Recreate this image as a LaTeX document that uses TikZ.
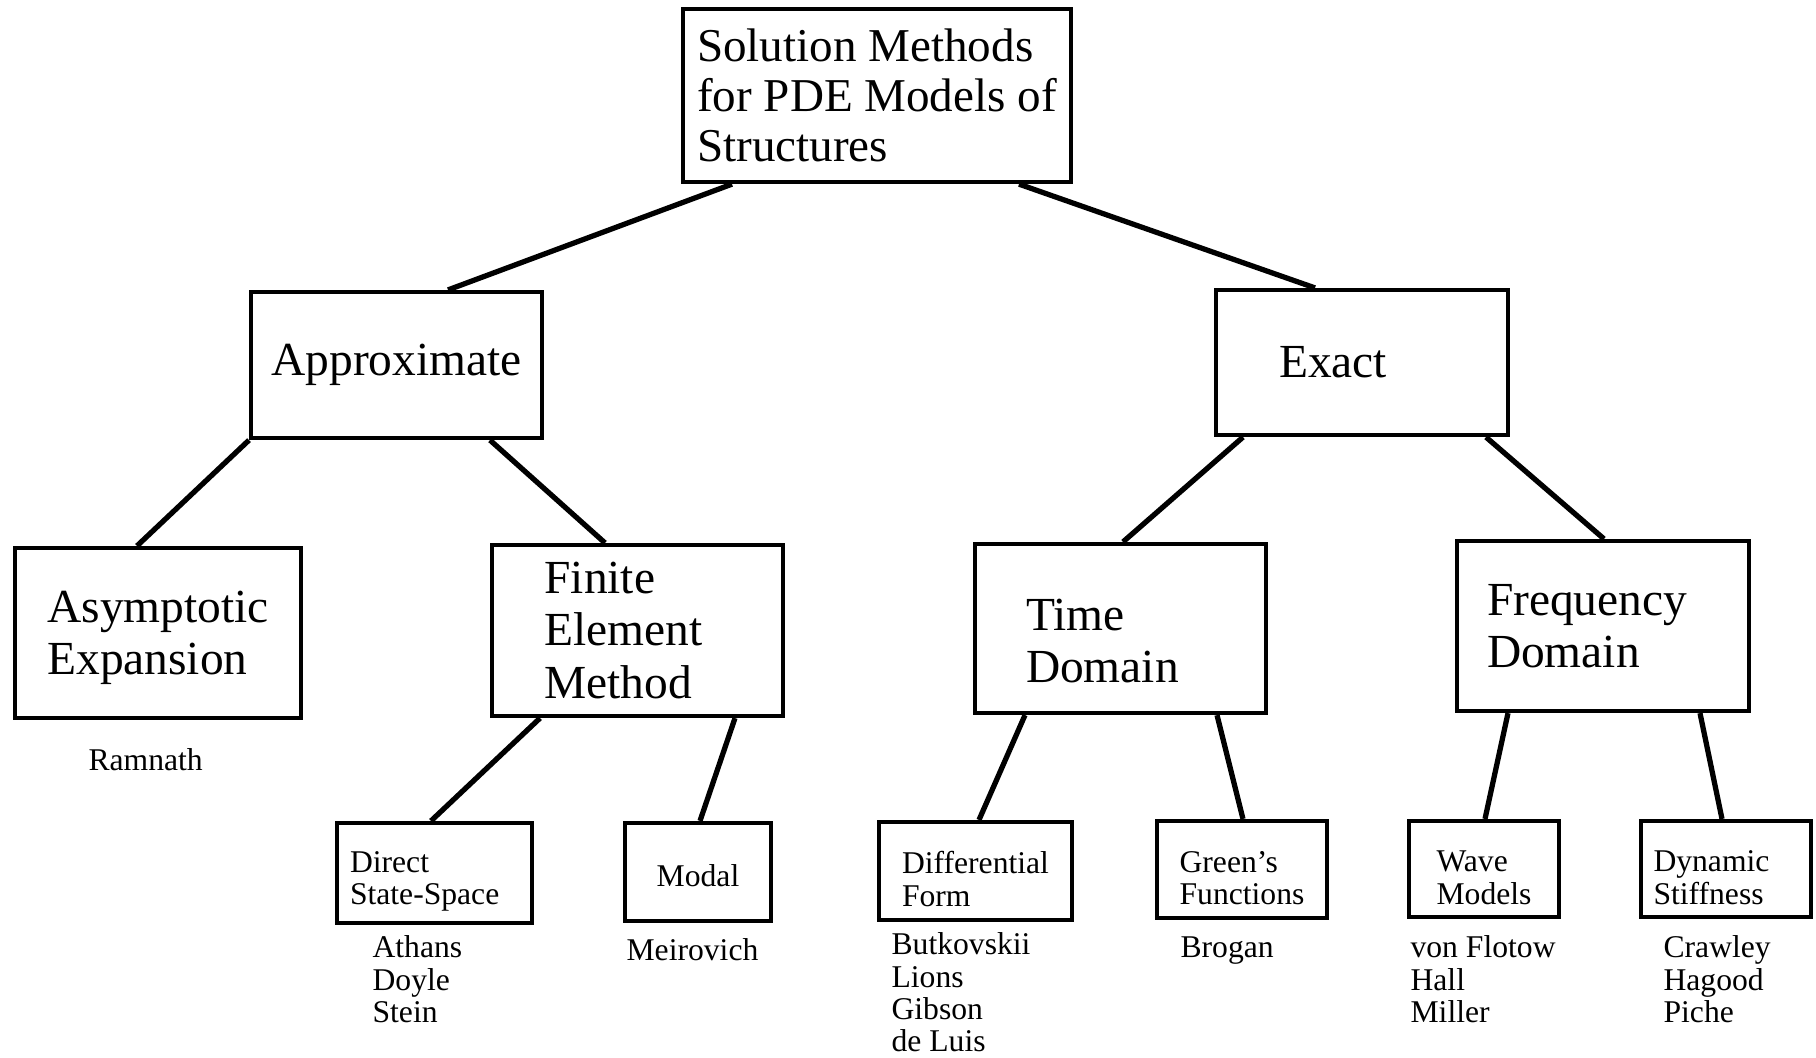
\documentclass[tikz,border=0pt]{standalone}
\usepackage{fontspec}
\setmainfont{Liberation Serif}
\usepackage{tikz}
\usetikzlibrary{positioning}

\tikzset{
  bigbox/.style={draw, line width=1.2pt, align=left, inner sep=0pt,
    font=\fontsize{13.5}{14.8}\selectfont},
  smallbox/.style={draw, line width=1.2pt, align=left, inner sep=0pt,
    text height=20pt, font=\fontsize{9}{9.2}\selectfont},
  refs/.style={align=left, inner sep=0pt, font=\fontsize{9}{9.2}\selectfont},
  link/.style={line width=1.5pt},
}

\begin{document}
\begin{tikzpicture}[x=0.1mm, y=-0.1mm]
            \useasboundingbox (0,0) rectangle (1816,1057);
            % top level
            \node[bigbox, font=\fontsize{13.4}{14.2}\selectfont, minimum width=38.8mm, minimum height=17.3mm] (root) at (877,95.5) {Solution Methods\\for PDE Models of\\Structures};
            \node[bigbox, minimum width=29.1mm, minimum height=14.6mm] (approx) at (396.5,365) {Approximate};
            \node[bigbox, text width=16.6mm, minimum width=29.2mm, minimum height=14.5mm] (exact) at (1362,362.5) {Exact};
            % second level
            \node[bigbox, text height=26.7pt, minimum width=28.6mm, minimum height=17mm] (asym) at (158,633) {Asymptotic\\Expansion};
            \node[bigbox, text width=18.6mm, minimum width=29.1mm, minimum height=17.1mm] (fem) at (637.5,630.5) {Finite\\Element\\Method};
            \node[bigbox, text height=16pt, text width=18.9mm, minimum width=29.1mm, minimum height=16.9mm] (time) at (1120.5,628.5) {Time\\Domain};
            \node[bigbox, text width=23.2mm, minimum width=29.2mm, minimum height=17mm] (freq) at (1603,626) {Frequency\\Domain};
            % third level
            \node[smallbox, text height=10.8pt, text width=16.9mm, minimum width=19.5mm, minimum height=10mm] (dss) at (434.5,873) {Direct\\State-Space};
            \node[smallbox, text height=8.2pt, minimum width=14.6mm, minimum height=9.8mm] (modal) at (698,872) {Modal};
            \node[smallbox, minimum width=19.3mm, minimum height=9.8mm] (diff) at (975.5,871) {Differential\\Form};
            \node[smallbox, minimum width=17mm, minimum height=9.7mm] (green) at (1242,869.5) {Green's\\Functions};
            \node[smallbox, minimum width=15mm, minimum height=9.6mm] (wave) at (1484,869) {Wave\\Models};
            \node[smallbox, text height=10.8pt, text width=14.5mm, minimum width=17mm, minimum height=9.6mm] (dyn) at (1726,869) {Dynamic\\Stiffness};
            % authors
            \node[refs, below right=2.8mm and 7.5mm of asym.south west] (asymrefs) {Ramnath};
            \node[refs, below right=1.0mm and 3.7mm of dss.south west] (dssrefs) {Athans\\Doyle\\Stein};
            \node[refs, below right=1.5mm and 0.3mm of modal.south west] (modalrefs) {Meirovich};
            \node[refs, below right=1.0mm and 1.4mm of diff.south west] (diffrefs) {Butkovskii\\Lions\\Gibson\\de Luis};
            \node[refs, below right=1.6mm and 2.5mm of green.south west] (greenrefs) {Brogan};
            \node[refs, below right=1.6mm and 0.3mm of wave.south west] (waverefs) {von Flotow\\Hall\\Miller};
            \node[refs, below right=1.6mm and 2.4mm of dyn.south west] (dynrefs) {Crawley\\Hagood\\Piche};
            % connectors
            \draw[link] (root.south -| 732,0) -- (approx.north -| 448,0);
            \draw[link] (root.south -| 1019,0) -- (exact.north -| 1315,0);
            \draw[link] (approx.south -| 249,0) -- (asym.north -| 137,0);
            \draw[link] (approx.south -| 490,0) -- (fem.north -| 605,0);
            \draw[link] (exact.south -| 1243,0) -- (time.north -| 1123,0);
            \draw[link] (exact.south -| 1486,0) -- (freq.north -| 1604,0);
            \draw[link] (fem.south -| 540,0) -- (dss.north -| 431,0);
            \draw[link] (fem.south -| 735,0) -- (modal.north -| 700,0);
            \draw[link] (time.south -| 1025,0) -- (diff.north -| 979,0);
            \draw[link] (time.south -| 1217,0) -- (green.north -| 1243,0);
            \draw[link] (freq.south -| 1508,0) -- (wave.north -| 1485,0);
            \draw[link] (freq.south -| 1700,0) -- (dyn.north -| 1722,0);
\end{tikzpicture}
\end{document}
